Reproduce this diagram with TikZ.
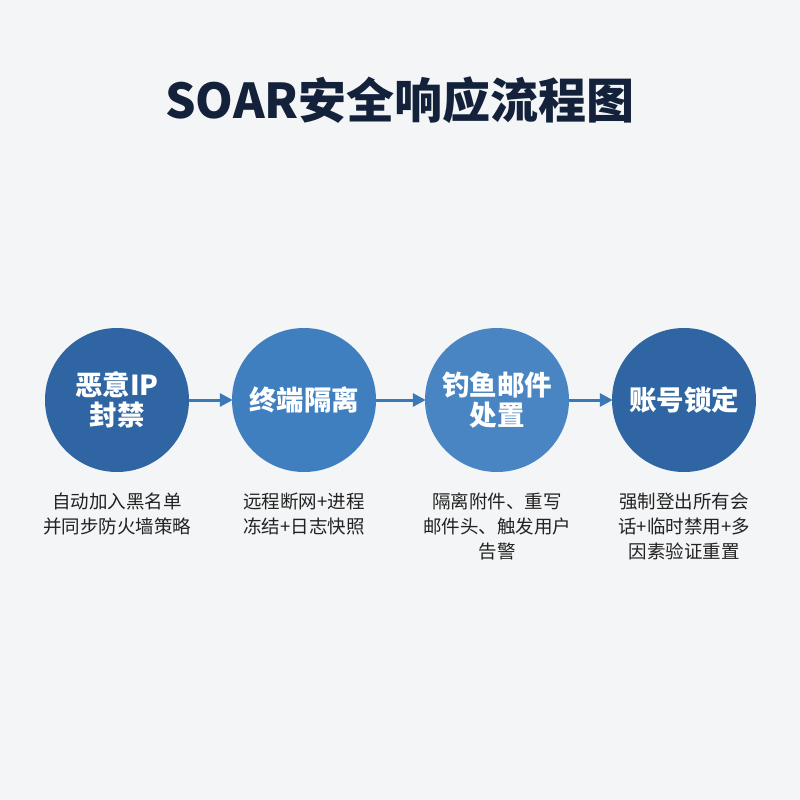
\documentclass[tikz,border=0pt]{standalone}
\usepackage{fontspec}
\setmainfont{Noto Sans CJK SC}
\usetikzlibrary{arrows.meta}
\definecolor{bgpaper}{HTML}{F4F5F6}
\definecolor{titleblue}{HTML}{13223A}
\definecolor{darkstep}{HTML}{2E65A2}
\definecolor{lightstep}{HTML}{3F7FC0}
\definecolor{flowarrow}{HTML}{3A78B8}
\definecolor{desctext}{HTML}{222222}

\begin{document}
\begin{tikzpicture}[x=1pt,y=-1pt]
    \tikzstyle{stage} = [circle,minimum size=144pt,inner sep=0pt,text=white,align=center,
        font=\fontsize{27.5}{30}\selectfont\bfseries]
    \tikzstyle{note} = [anchor=north,inner sep=0pt,align=center,text=desctext,
        font=\fontsize{18.5}{25}\selectfont]
    \tikzstyle{flow} = [draw=flowarrow,line width=3pt,-{Triangle[length=13pt,width=13pt]},shorten >=-1pt]

    \fill[bgpaper] (0,0) rectangle (800,800);
    \useasboundingbox (0,0) rectangle (800,800);

    \node[text=titleblue,font=\fontsize{48}{56}\selectfont\bfseries] (title) at (400,100) {SOAR安全响应流程图};

    \node[stage,fill=darkstep] (A) at (117,400) {恶意IP\\封禁};
    \node[stage,fill=lightstep] (B) at (304,400) {终端隔离};
    \node[stage,fill=lightstep!95!white] (C) at (497,400) {钓鱼邮件\\处置};
    \node[stage,fill=darkstep] (D) at (684,400) {账号锁定};

    \node[note] (a) at (117,493) {自动加入黑名单\\并同步防火墙策略};
    \node[note] (b) at (304,493) {远程断网+进程\\冻结+日志快照};
    \node[note] (c) at (497,493) {隔离附件、重写\\邮件头、触发用户\\告警};
    \node[note] (d) at (684,493) {强制登出所有会\\话+临时禁用+多\\因素验证重置};

    \draw[flow] (A) -- (B);
    \draw[flow] (B) -- (C);
    \draw[flow] (C) -- (D);
\end{tikzpicture}
\end{document}
